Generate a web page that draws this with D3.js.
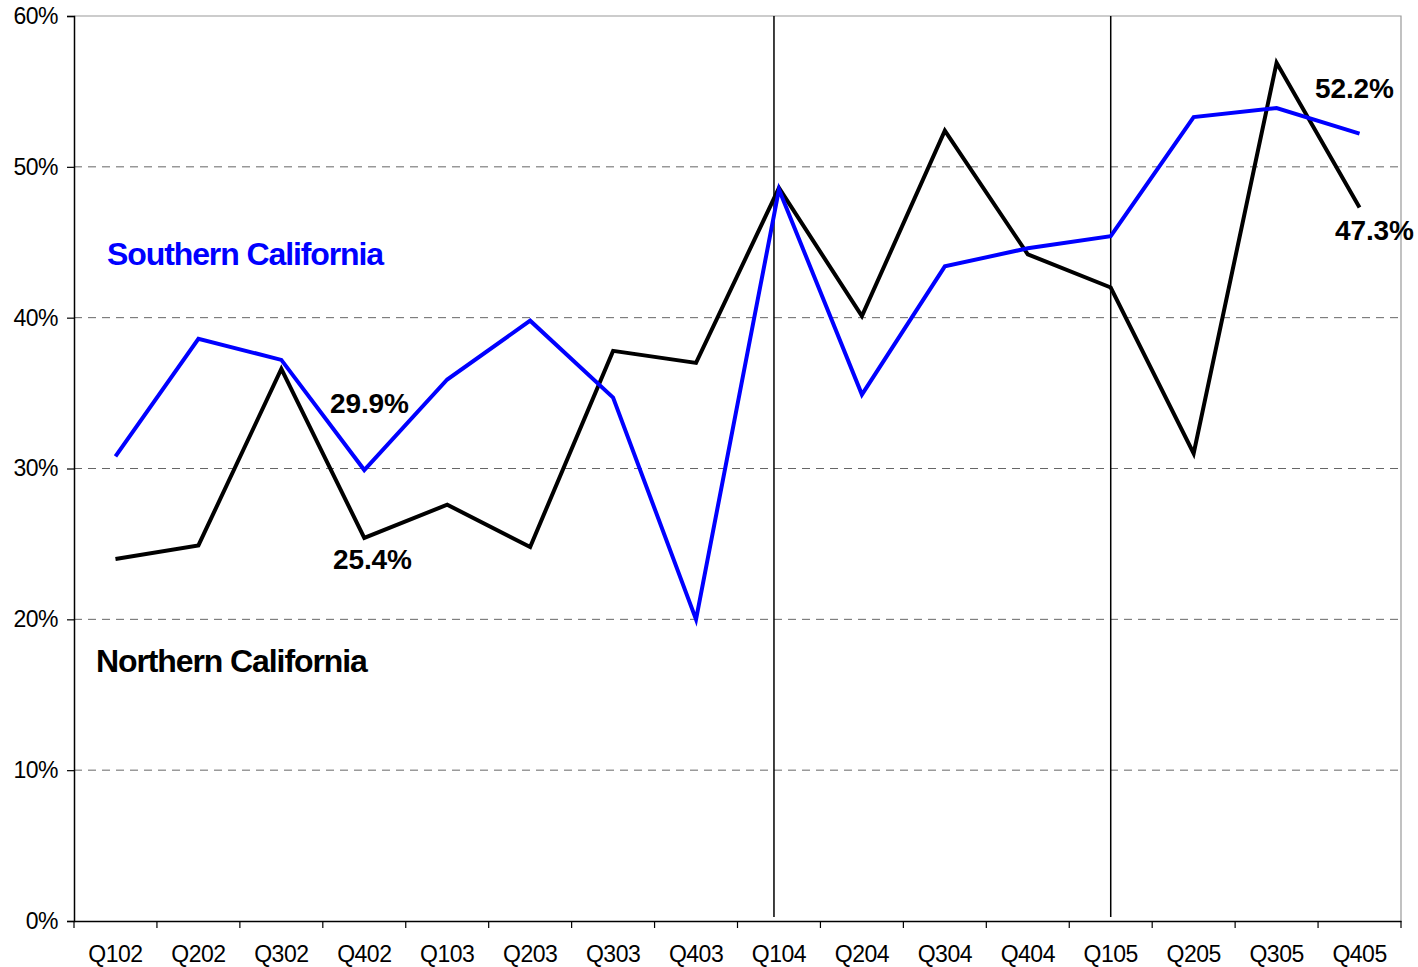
<!DOCTYPE html>
<html>
<head>
<meta charset="utf-8">
<script src="https://cdn.jsdelivr.net/npm/d3@7"></script>
<style>
  body { margin: 0; background: #fff; }
  text { font-family: "Liberation Sans", Arial, sans-serif; }
</style>
</head>
<body>
<svg id="chart"></svg>
<script>
const quarters = ["Q102", "Q202", "Q302", "Q402", "Q103", "Q203", "Q303", "Q403",
                  "Q104", "Q204", "Q304", "Q404", "Q105", "Q205", "Q305", "Q405"];

const southern = [30.8, 38.6, 37.2, 29.9, 35.9, 39.8, 34.7, 20.0,
                  48.5, 34.9, 43.4, 44.6, 45.4, 53.3, 53.9, 52.2];

const northern = [24.0, 24.9, 36.6, 25.4, 27.6, 24.8, 37.8, 37.0,
                  48.6, 40.1, 52.4, 44.2, 42.0, 31.0, 56.9, 47.3];

const yTicks = [0, 10, 20, 30, 40, 50, 60];

// year dividers
const dividers = ["Q104", "Q105"];

const WIDTH = 1418, HEIGHT = 967;
const margin = { top: 16, bottom: 46, left: 74, right: 17 };
const width = WIDTH - margin.left - margin.right,
      height = HEIGHT - margin.top - margin.bottom;

const svg = d3.select("svg#chart")
                .attr("width", WIDTH)
                .attr("height", HEIGHT)
                .style("display", "block");

const g = svg.append("g")
                .attr("transform", `translate(${margin.left}, ${margin.top})`);

const xScale = d3.scaleBand()
                .domain(quarters)
                .range([0, width]);

const xPos = (q) => xScale(q) + xScale.bandwidth() / 2;

const yScale = d3.scaleLinear()
                .domain([0, 60])
                .range([height, 0]);

// grid
g.selectAll("line.grid")
    .data(yTicks.filter((t) => t > 0 && t < 60))
    .join("line")
        .attr("class", "grid")
        .attr("x1", 0)
        .attr("x2", width)
        .attr("y1", (d) => yScale(d))
        .attr("y2", (d) => yScale(d))
        .attr("stroke", "#666")
        .attr("stroke-width", 1)
        .attr("stroke-dasharray", "8,6");

// plot frame top/right
g.append("path")
    .attr("d", `M0,${yScale(60)}H${width}V${height}`)
    .attr("fill", "none")
    .attr("stroke", "#999")
    .attr("stroke-width", 1.2);

// dividers
g.selectAll("line.divider")
    .data(dividers)
    .join("line")
        .attr("class", "divider")
        .attr("x1", (d, i) => xPos(d) - (i === 0 ? 5 : 0))
        .attr("x2", (d, i) => xPos(d) - (i === 0 ? 5 : 0))
        .attr("y1", 0)
        .attr("y2", height - 4)
        .attr("stroke", "#000")
        .attr("stroke-width", 1.5);

// axes
const yAxis = g.append("g")
                .call(d3.axisLeft(yScale)
                        .tickValues(yTicks)
                        .tickSize(7)
                        .tickPadding(9)
                        .tickFormat((d) => d + "%"));

const xAxis = g.append("g")
                .attr("transform", `translate(0, ${height})`)
                .call(d3.axisBottom(xScale).tickSize(0).tickPadding(25));

[yAxis, xAxis].forEach((ax) => {
    ax.select(".domain").attr("stroke", "#000").attr("stroke-width", 1.5);
    ax.selectAll("text")
        .attr("fill", "#000")
        .style("font-size", "23px")
        .style("letter-spacing", "-0.5px");
    ax.selectAll(".tick line").attr("stroke", "#000").attr("stroke-width", 1.2);
});

// x ticks between categories
xAxis.selectAll("line.sep")
    .data(quarters.concat(["end"]))
    .join("line")
        .attr("class", "sep")
        .attr("x1", (d, i) => xScale.step() * i)
        .attr("x2", (d, i) => xScale.step() * i)
        .attr("y1", 0)
        .attr("y2", 7)
        .attr("stroke", "#000")
        .attr("stroke-width", 1.2);

// lines
const line = d3.line()
                .x((d, i) => xPos(quarters[i]))
                .y((d) => yScale(d));

[[northern, "#000"], [southern, "#0000ff"]].forEach(([series, color]) => {
    g.append("path")
        .datum(series)
        .attr("d", line)
        .attr("fill", "none")
        .attr("stroke", color)
        .attr("stroke-width", 4)
        .attr("stroke-linejoin", "miter");
});

// labels
const bold = (text, x, y, size, color) =>
    svg.append("text")
        .attr("x", x)
        .attr("y", y)
        .attr("fill", color)
        .style("font-size", size + "px")
        .style("font-weight", "bold")
        .style("letter-spacing", size > 30 ? "-1.1px" : "-0.1px")
        .text(text);

bold("Southern California", 107, 265, 32, "#0000ff");
bold("Northern California", 96, 672, 32, "#000");
bold("29.9%", 330, 413, 28, "#000");
bold("25.4%", 333, 569, 28, "#000");
bold("52.2%", 1315, 98, 28, "#000");
bold("47.3%", 1335, 240, 28, "#000");
</script>
</body>
</html>
